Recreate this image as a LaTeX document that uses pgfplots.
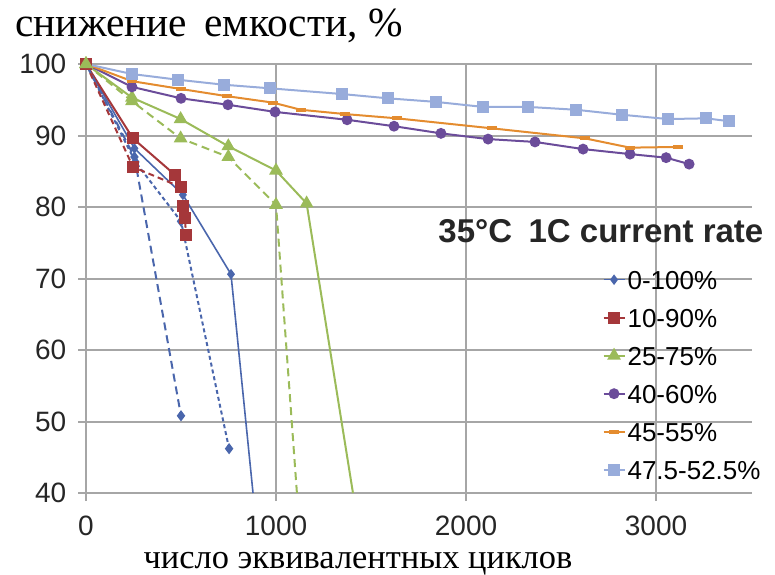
\documentclass[border=0pt]{standalone}
\usepackage{fontspec}
\setmainfont{Liberation Serif}
\newfontfamily\arialf{Liberation Sans}
\usepackage{pgfplots}
\pgfplotsset{compat=1.18}
\definecolor{cblue}{HTML}{4A66AC}
\definecolor{cred}{HTML}{A5373A}
\definecolor{cgreen}{HTML}{9BBB59}
\definecolor{cpurple}{HTML}{6B4C9A}
\definecolor{corange}{HTML}{E48C2F}
\definecolor{clblue}{HTML}{98ACDB}
\definecolor{gridgray}{HTML}{A6A6A6}
\begin{document}
\begin{tikzpicture}
\path[use as bounding box] (-43pt,-40.5pt) rectangle (344.5pt,246.5pt);
\begin{axis}[
  at={(0,0)}, anchor=south west,
  scale only axis, width=333pt, height=214.5pt,
  xmin=0, xmax=3505, ymin=40, ymax=100,
  xtick={0,1000,2000,3000}, ytick={40,50,...,100},
  grid=major, major grid style={color=gridgray, line width=1pt},
  axis x line*=bottom, axis y line*=left,
  axis line style={color=gridgray, line width=1pt, -},
  tick align=outside, major tick length=4pt,
  tick style={color=gridgray, line width=1pt},
  /pgf/number format/assume math mode=true,
  /pgf/number format/1000 sep={},
  ticklabel style={font=\arialf\fontsize{14}{14}\selectfont, text=black!85, inner sep=0pt},
  xticklabel style={yshift=-7.3pt},
  yticklabel style={xshift=-5.7pt},
  legend style={at={(0.775,0.525)}, anchor=north west, draw=none, fill=none,
    font=\arialf\fontsize{13}{13}\selectfont, inner sep=0pt,
    row sep=7.5pt, nodes={inner sep=1pt, text height=9.5pt, text depth=0pt}},
  legend cell align=left,
  legend image code/.code={\draw[mark indices={2}] plot coordinates {(0pt,0pt)(5.25pt,0pt)(10.5pt,0pt)};},
]
% 0-100%
\addplot[cblue, line width=0.8pt, mark=diamond*, mark size=2pt, mark indices={1,2,3,4}]
  coordinates {(0,100)(255,88.2)(510,81.7)(763,70.6)(879,40)};
\addlegendentry{0-100\%}
% 10-90%
\addplot[cred, line width=1pt, mark=square*, mark size=2.5pt]
  coordinates {(0,100)(247,89.6)(468,84.5)};
\addlegendentry{10-90\%}
% 25-75%
\addplot[cgreen, line width=1pt, mark=triangle*, mark size=3pt, mark indices={1,2,3,4,5,6}]
  coordinates {(0,100)(242,95.3)(498,92.3)(749,88.5)(1000,85.1)(1161,80.5)(1405,40)};
\addlegendentry{25-75\%}
% 40-60%
\addplot[cpurple, line width=1pt, mark=*, mark size=2.2pt]
  coordinates {(0,100)(242,96.8)(500,95.2)(747,94.3)(995,93.3)(1374,92.2)(1621,91.3)(1868,90.3)(2116,89.5)(2363,89.1)(2616,88.1)(2863,87.4)(3053,86.9)(3174,86.0)};
\addlegendentry{40-60\%}
% 45-55%
\addplot[corange, line width=1pt, mark=-, mark size=2.5pt, mark options={line width=2pt}]
  coordinates {(0,100)(242,97.6)(500,96.5)(742,95.5)(984,94.6)(1130,93.6)(1363,93.0)(1637,92.4)(2137,91.0)(2626,89.6)(2863,88.3)(3116,88.4)};
\addlegendentry{45-55\%}
% 47.5-52.5%
\addplot[clblue, line width=1pt, mark=square*, mark size=2.5pt]
  coordinates {(0,100)(242,98.6)(484,97.8)(726,97.1)(968,96.6)(1347,95.8)(1589,95.2)(1842,94.7)(2089,94.0)(2326,94.0)(2579,93.6)(2821,92.9)(3063,92.3)(3263,92.4)(3384,92.0)};
\addlegendentry{47.5-52.5\%}
% dashed companions
\addplot[forget plot, cblue, line width=1pt, dash pattern=on 4pt off 2.5pt, mark=diamond*, mark size=2pt, mark options={solid}]
  coordinates {(0,100)(255,87)(500,50.8)};
\addplot[forget plot, cblue, line width=1pt, dash pattern=on 2pt off 1.5pt, mark=diamond*, mark size=2pt, mark options={solid}]
  coordinates {(0,100)(260,86.3)(500,78)(753,46.2)};
\addplot[forget plot, cred, line width=1pt, dash pattern=on 3pt off 2pt, mark=square*, mark size=2.5pt, mark options={solid}]
  coordinates {(0,100)(247,85.6)(498,82.8)(509,80.1)(521,78.5)(526,76.1)};
\addplot[forget plot, cgreen, line width=1pt, dash pattern=on 4pt off 2.5pt, mark=triangle*, mark size=3pt, mark options={solid}, mark indices={1,2,3,4,5}]
  coordinates {(0,100)(242,94.8)(498,89.6)(749,87.0)(1000,80.3)(1110,40)};
\end{axis}
\node[anchor=base west, inner sep=0pt, font=\arialf\bfseries\fontsize{16.5}{16.5}\selectfont, text=black!85] at (176pt,125.5pt) {35°C\,\,\,1C current rate};
\node[anchor=base west, inner sep=0pt, font=\fontsize{20.7}{20.7}\selectfont] at (-35.5pt,228pt) {снижение\, емкости, \%};
\node[anchor=base, inner sep=0pt, font=\fontsize{17.2}{17.2}\selectfont] at (136pt,-37.8pt) {число эквивалентных циклов};
\end{tikzpicture}
\end{document}
